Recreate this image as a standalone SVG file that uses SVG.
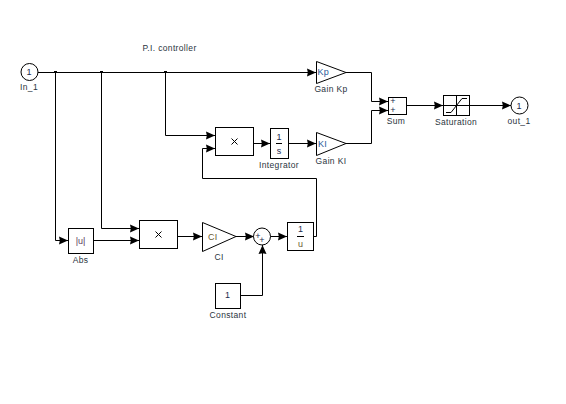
<svg xmlns="http://www.w3.org/2000/svg" width="566" height="404" viewBox="0 0 566 404">
<style>
.b{fill:#fff;stroke:#000;stroke-width:1}
.c{fill:none;stroke:#000;stroke-width:1}
text{font-family:"Liberation Sans",Arial,sans-serif;font-size:8.500px;letter-spacing:.35px;fill:#2a3440;text-anchor:middle}
.k{text-anchor:start;fill:#1f5a9a;font-size:9px}
.i{fill:#1c2c50;font-size:9px;letter-spacing:0}
.j{fill:#000}
</style>
<defs><marker id="a" markerUnits="userSpaceOnUse" markerWidth="9" markerHeight="9" refX="9" refY="4.500" orient="auto"><path d="M0,.5L9,4.500L0,8.500L.8,4.500Z" fill="#000"/></marker></defs>
<rect width="566" height="404" fill="#fff"/>
<g id="connectors">
<path class="c" d="M37.500 72.500H316" marker-end="url(#a)"/>
<path class="c" d="M55.500 72.500V240.500H68" marker-end="url(#a)"/>
<path class="c" d="M101.500 72.500V228.500H139" marker-end="url(#a)"/>
<path class="c" d="M165.500 72.500V135.500H215" marker-end="url(#a)"/>
<path class="c" d="M346 72.500H371.500V101.500H388" marker-end="url(#a)"/>
<path class="c" d="M346 143.500H371.500V110.500H388" marker-end="url(#a)"/>
<path class="c" d="M406 105.500H443" marker-end="url(#a)"/>
<path class="c" d="M469 105.500H511" marker-end="url(#a)"/>
<path class="c" d="M253 143.500H270" marker-end="url(#a)"/>
<path class="c" d="M288 143.500H316" marker-end="url(#a)"/>
<path class="c" d="M313 236.500H316.500V178.500H202.500V148.500H215" marker-end="url(#a)"/>
<path class="c" d="M93 240.500H139" marker-end="url(#a)"/>
<path class="c" d="M177 236.500H202" marker-end="url(#a)"/>
<path class="c" d="M236 236.500H254" marker-end="url(#a)"/>
<path class="c" d="M270 236.500H287" marker-end="url(#a)"/>
<path class="c" d="M240 295.500H262.500V245" marker-end="url(#a)"/>
<rect class="j" x="54" y="71" width="3" height="2"/>
<rect class="j" x="100" y="71" width="3" height="2"/>
<rect class="j" x="164" y="71" width="3" height="2"/>
</g>
<g id="title"><text x="169.500" y="51">P.I. controller</text></g>
<g id="In_1"><circle class="b" cx="29.500" cy="72" r="8.500"/><text class="i" x="29" y="74.500">1</text><text x="29" y="90">In_1</text></g>
<g id="Gain_Kp"><path class="b" d="M316.500 61.500L346 72.500L316.500 83.500Z"/><text class="k" x="317.500" y="74.500">Kp</text><text x="331" y="92">Gain Kp</text></g>
<g id="Gain_KI"><path class="b" d="M316.500 132.500L346 143.500L316.500 155.500Z"/><text class="k" x="318" y="146.500">KI</text><text x="331" y="164">Gain KI</text></g>
<g id="Product1"><rect class="b" x="215.500" y="127.500" width="38" height="28"/><path class="c" d="M231.500 138.500l6 6m0-6l-6 6"/></g>
<g id="Integrator"><rect class="b" x="270.500" y="128.500" width="18" height="30"/><text class="i" x="279" y="139.500">1</text><path class="c" d="M276 143.500h6"/><text class="i" x="279" y="153.500">s</text><text x="279" y="168">Integrator</text></g>
<g id="Sum"><rect class="b" x="388.500" y="97.500" width="18" height="17"/><text class="i" x="393" y="104">+</text><text class="i" x="393" y="113">+</text><text x="396" y="124">Sum</text></g>
<g id="Saturation"><rect class="b" x="443.500" y="95.500" width="26" height="20"/><path class="c" d="M456.500 95.500v20M443.500 105.500h26M446 112.500h5l11-14h5"/><text x="456" y="125">Saturation</text></g>
<g id="out_1"><circle class="b" cx="519.500" cy="105.500" r="8.500"/><text class="i" x="519" y="108.500">1</text><text x="519" y="124">out_1</text></g>
<g id="Abs"><rect class="b" x="68.500" y="228.500" width="25" height="25"/><text class="i" x="80.500" y="243.500" style="fill:#5a3a60">|u|</text><text x="80.500" y="263">Abs</text></g>
<g id="Product2"><rect class="b" x="139.500" y="220.500" width="38" height="28"/><path class="c" d="M155.500 231.500l6 6m0-6l-6 6"/></g>
<g id="CI"><path class="b" d="M202.500 222.500L236 236.500L202.500 251.500Z"/><text class="k" x="208" y="239.500" style="fill:#6a5a30">CI</text><text x="219" y="260">CI</text></g>
<g id="Add"><circle class="b" cx="262" cy="236.500" r="8.500"/><text class="i" x="258" y="239">+</text><text class="i" x="262" y="243">+</text></g>
<g id="Reciprocal"><rect class="b" x="287.500" y="222.500" width="26" height="28"/><text class="i" x="300.500" y="232">1</text><path class="c" d="M297 236.500h7"/><text class="i" x="300.500" y="247" style="fill:#6a5a30">u</text></g>
<g id="Constant"><rect class="b" x="215.500" y="283.500" width="25" height="25"/><text class="i" x="227.500" y="297.500">1</text><text x="228" y="318">Constant</text></g>
</svg>
